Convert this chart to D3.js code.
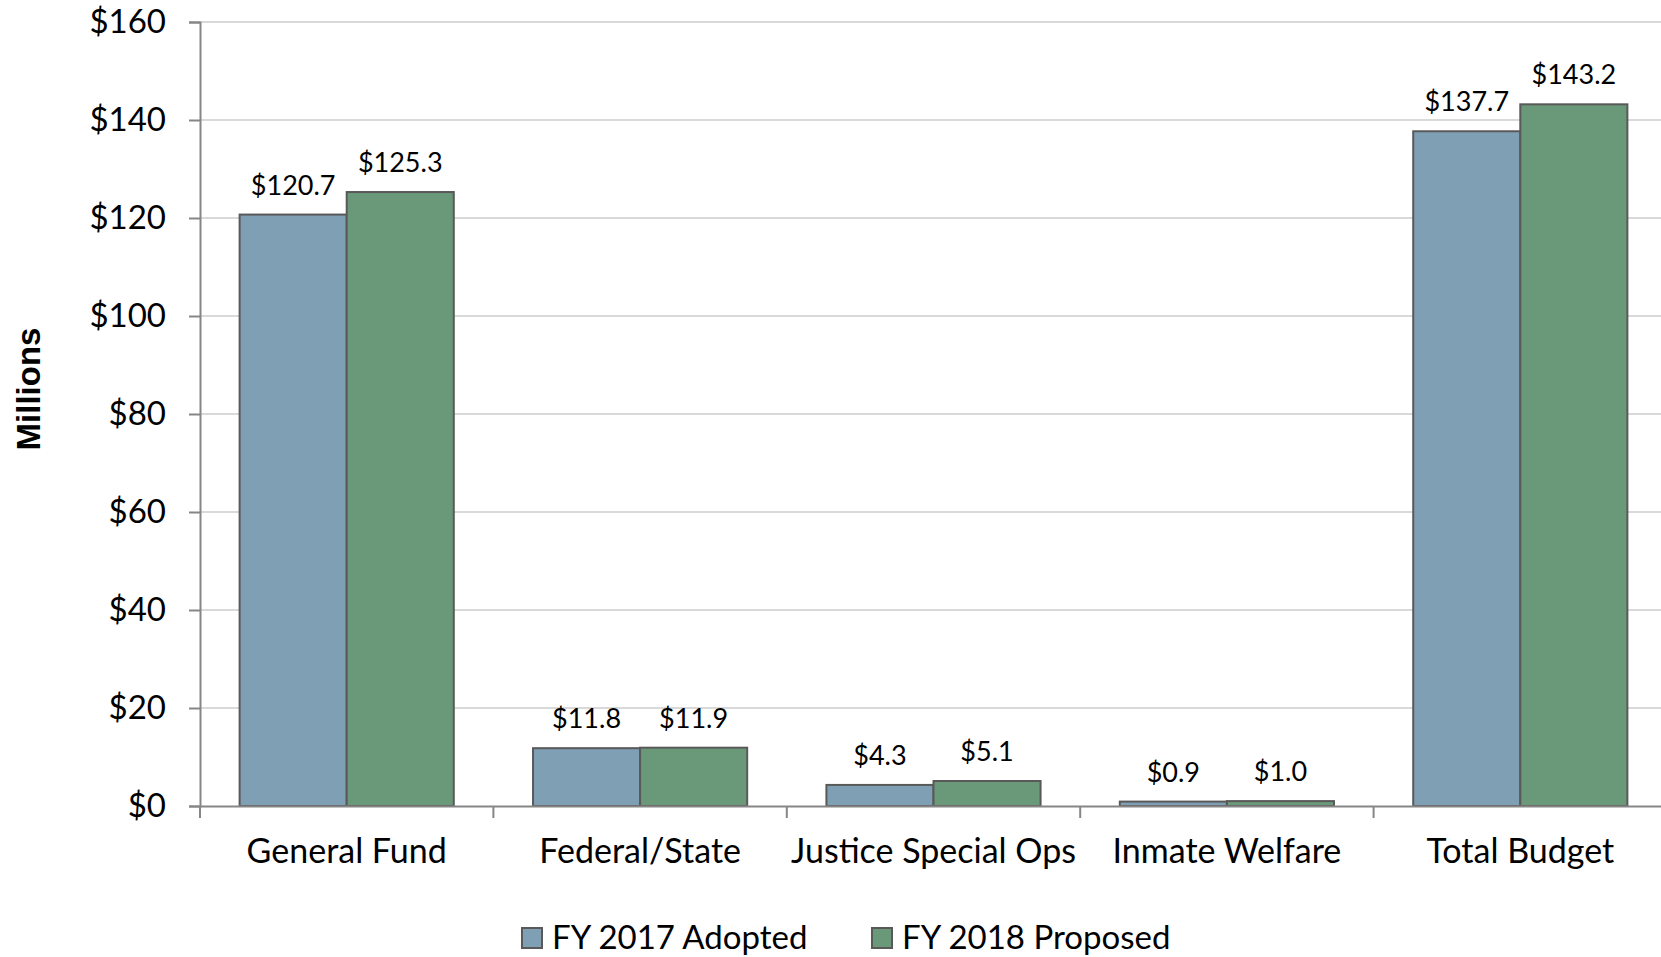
<!DOCTYPE html>
<html lang="en">
<head>
<meta charset="UTF-8">
<title>Budget Chart</title>
<script src="https://d3js.org/d3.v7.min.js"></script>
<style>
  body { margin: 0; background: #fff; }
  svg { display: block; overflow: hidden; }
</style>
</head>
<body>
<div id="chart-container"></div>
<script>
// Data
const categories = ["General Fund", "Federal/State", "Justice Special Ops", "Inmate Welfare", "Total Budget"];
const seriesNames = ["FY 2017 Adopted", "FY 2018 Proposed"];
const fy2017 = [120.7, 11.8, 4.3, 0.9, 137.7];
const fy2018 = [125.3, 11.9, 5.1, 1.0, 143.2];
const yTicks = [0, 20, 40, 60, 80, 100, 120, 140, 160];
const colors = ["#7f9fb5", "#6a9979"];

const width = 1661;
const height = 957;
const margin = { top: 22, right: -6, bottom: 151, left: 200 };

const svg = d3.select('#chart-container')
  .append('svg')
  .attr('width', width)
  .attr('height', height);

const x0 = d3.scaleBand()
  .domain(categories)
  .range([margin.left, width - margin.right])
  .padding(0);

const x1 = d3.scaleBand()
  .domain(seriesNames)
  .range([0, x0.bandwidth()])
  .paddingInner(0)
  .paddingOuter(0.37);

const y = d3.scaleLinear()
  .domain([0, 160])
  .range([height - margin.bottom, margin.top]);

// Gridlines
svg.append('g')
  .selectAll('line')
  .data(yTicks.filter(d => d > 0))
  .enter()
  .append('line')
  .attr('x1', margin.left)
  .attr('x2', width)
  .attr('y1', d => y(d))
  .attr('y2', d => y(d))
  .attr('stroke', '#d9d9d9')
  .attr('stroke-width', 2);

// Y axis
const yAxis = svg.append('g')
  .attr('transform', `translate(${margin.left},0)`)
  .call(d3.axisLeft(y).tickValues(yTicks).tickFormat(d => '$' + d).tickSize(11).tickPadding(23));
yAxis.select('.domain').attr('stroke', '#868686').attr('stroke-width', 2);
yAxis.selectAll('.tick line').attr('stroke', '#868686').attr('stroke-width', 2);
yAxis.selectAll('.tick text')
  .attr('font-family', 'Lato, sans-serif')
  .attr('font-size', 33)
  .attr('fill', '#000');

// Bars
const groups = svg.append('g')
  .selectAll('g')
  .data(categories.map((c, i) => ({ cat: c, vals: [fy2017[i], fy2018[i]] })))
  .enter()
  .append('g')
  .attr('transform', d => `translate(${x0(d.cat)},0)`);

groups.selectAll('rect')
  .data(d => d.vals.map((v, j) => ({ name: seriesNames[j], value: v, j: j })))
  .enter()
  .append('rect')
  .attr('x', d => x1(d.name))
  .attr('y', d => y(d.value))
  .attr('width', x1.bandwidth())
  .attr('height', d => y(0) - y(d.value))
  .attr('fill', d => colors[d.j])
  .attr('stroke', '#595959')
  .attr('stroke-width', 2);

groups.selectAll('text')
  .data(d => d.vals.map((v, j) => ({ name: seriesNames[j], value: v })))
  .enter()
  .append('text')
  .attr('x', d => x1(d.name) + x1.bandwidth() / 2)
  .attr('y', d => y(d.value) - 20)
  .attr('text-anchor', 'middle')
  .attr('font-family', 'Lato, sans-serif')
  .attr('font-size', 27)
  .attr('fill', '#000')
  .text(d => '$' + d.value.toFixed(1));

// X axis
const xAxis = svg.append('g')
  .attr('transform', `translate(0,${y(0)})`)
  .call(d3.axisBottom(x0).tickSize(0).tickPadding(33));
xAxis.select('.domain').attr('stroke', '#868686').attr('stroke-width', 2);
xAxis.selectAll('.tick text')
  .attr('font-family', 'Lato, sans-serif')
  .attr('font-size', 34)
  .attr('fill', '#000');

// X tick marks at category boundaries
svg.append('g')
  .selectAll('line')
  .data(categories)
  .enter()
  .append('line')
  .attr('x1', d => x0(d))
  .attr('x2', d => x0(d))
  .attr('y1', y(0))
  .attr('y2', y(0) + 12)
  .attr('stroke', '#868686')
  .attr('stroke-width', 2);

// Y axis title
svg.append('text')
  .attr('transform', `translate(40,${389}) rotate(-90)`)
  .attr('text-anchor', 'middle')
  .attr('font-family', '"Liberation Sans", Arial, sans-serif')
  .attr('font-weight', 'bold')
  .attr('font-size', 33)
  .text('Millions');

// Legend
const legendX = [522, 872];
const legend = svg.append('g')
  .selectAll('g')
  .data(seriesNames)
  .enter()
  .append('g')
  .attr('transform', (d, i) => `translate(${legendX[i]},928)`);
legend.append('rect')
  .attr('width', 20)
  .attr('height', 20)
  .attr('fill', (d, i) => colors[i])
  .attr('stroke', '#595959')
  .attr('stroke-width', 2);
legend.append('text')
  .attr('x', 30)
  .attr('y', 21)
  .attr('font-family', 'Lato, sans-serif')
  .attr('font-size', 33)
  .attr('fill', '#000')
  .text(d => d);
</script>
</body>
</html>
